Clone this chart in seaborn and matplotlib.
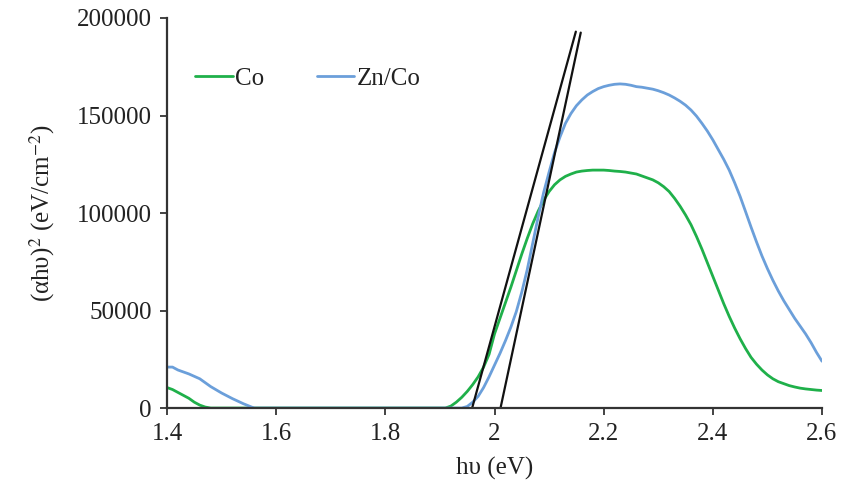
import matplotlib
matplotlib.use("Agg")
import matplotlib.pyplot as plt
import seaborn as sns
import pandas as pd

co_x = [1.40, 1.41, 1.42, 1.43, 1.44, 1.45, 1.46, 1.47, 1.48, 1.91, 1.92, 1.93, 1.94, 1.95,
        1.96, 1.97, 1.98, 1.99, 2.00, 2.01, 2.02, 2.03, 2.04, 2.05, 2.06, 2.07, 2.08, 2.09,
        2.10, 2.11, 2.12, 2.13, 2.14, 2.15, 2.16, 2.17, 2.18, 2.19, 2.20, 2.21, 2.22, 2.23,
        2.24, 2.25, 2.26, 2.27, 2.28, 2.29, 2.30, 2.31, 2.32, 2.33, 2.34, 2.35, 2.36, 2.37,
        2.38, 2.39, 2.40, 2.41, 2.42, 2.43, 2.44, 2.45, 2.46, 2.47, 2.48, 2.49, 2.50, 2.51,
        2.52, 2.53, 2.54, 2.55, 2.56, 2.57, 2.58, 2.59, 2.60]
co_y = [10500, 9500, 8000, 6500, 5000, 3000, 1500, 500, 0, 0, 1000, 3000, 5500, 8500,
        12000, 16000, 21000, 27500, 38000, 46000, 54000, 62000, 70500, 79000, 87000, 94500, 101000, 106500,
        111000, 114500, 117000, 118800, 120000, 121000, 121500, 121800, 122000, 122000, 122000, 121800, 121500, 121300,
        121000, 120500, 120000, 119000, 118000, 117000, 115500, 113500, 111000, 107500, 103500, 99000, 94000, 88000,
        81500, 74500, 67500, 60500, 53500, 47000, 41000, 35500, 30500, 26000, 22500, 19500, 17000, 15000,
        13500, 12500, 11500, 10800, 10200, 9800, 9500, 9200, 9000]

zn_x = [1.40, 1.41, 1.42, 1.44, 1.46, 1.47, 1.48, 1.50, 1.52, 1.54, 1.555, 1.56, 1.94, 1.95,
        1.96, 1.97, 1.98, 1.99, 2.00, 2.01, 2.02, 2.03, 2.04, 2.05, 2.06, 2.07, 2.08, 2.09,
        2.10, 2.11, 2.12, 2.13, 2.14, 2.15, 2.16, 2.17, 2.18, 2.19, 2.20, 2.21, 2.22, 2.23,
        2.24, 2.25, 2.26, 2.27, 2.28, 2.29, 2.30, 2.31, 2.32, 2.33, 2.34, 2.35, 2.36, 2.37,
        2.38, 2.39, 2.40, 2.41, 2.42, 2.43, 2.44, 2.45, 2.46, 2.47, 2.48, 2.49, 2.50, 2.51,
        2.52, 2.53, 2.54, 2.55, 2.56, 2.57, 2.58, 2.59, 2.60]
zn_y = [21000, 21000, 19500, 17500, 15000, 13000, 11000, 7700, 4800, 2200, 500, 0, 0, 800,
        3000, 6000, 10500, 16000, 22000, 28000, 34500, 41500, 49500, 59500, 71000, 84500, 98000, 110500,
        121000, 131000, 139000, 146000, 151000, 155000, 158000, 160500, 162300, 163800, 164800, 165500, 166000, 166200,
        166000, 165500, 164800, 164500, 164000, 163500, 162700, 161700, 160500, 159000, 157300, 155300, 152800, 149700,
        146000, 142000, 137500, 132500, 127500, 122000, 115500, 108500, 100700, 92800, 85200, 78000, 71500, 65500,
        60000, 55000, 50500, 46000, 42000, 38000, 33500, 28500, 24000]

tan1_x = [1.959, 2.149]
tan1_y = [0, 193000]
tan2_x = [2.011, 2.158]
tan2_y = [0, 192500]

series_names = ["Co", "Zn/Co"]
x_ticks = [1.4, 1.6, 1.8, 2.0, 2.2, 2.4, 2.6]
x_tick_labels = ["1.4", "1.6", "1.8", "2", "2.2", "2.4", "2.6"]
y_ticks = [0, 50000, 100000, 150000, 200000]

sns.set_theme(style="white")
plt.rcParams["font.family"] = ["Liberation Serif", "DejaVu Serif"]
plt.rcParams["mathtext.fontset"] = "stix"

df = pd.concat([
    pd.DataFrame({"x": co_x, "y": co_y, "s": series_names[0]}),
    pd.DataFrame({"x": zn_x, "y": zn_y, "s": series_names[1]}),
])

fig = plt.figure(figsize=(8.41, 4.97), dpi=100)
ax = fig.add_axes([0.1986, 0.179, 0.7788, 0.7848])

sns.lineplot(data=df, x="x", y="y", hue="s", sort=False, estimator=None,
             palette={"Co": "#1fb04a", "Zn/Co": "#6b9fda"}, linewidth=2.0, ax=ax)
sns.lineplot(x=tan1_x, y=tan1_y, color="#111111", linewidth=1.6, ax=ax, legend=False)
sns.lineplot(x=tan2_x, y=tan2_y, color="#111111", linewidth=1.6, ax=ax, legend=False)

ax.set_xlim(1.4, 2.6)
ax.set_ylim(0, 200000)
ax.set_xticks(x_ticks)
ax.set_xticklabels(x_tick_labels)
ax.set_yticks(y_ticks)
ax.set_yticklabels([str(v) for v in y_ticks])
ax.tick_params(axis="both", labelsize=18, colors="#222222", length=5, width=1.2,
               direction="out", bottom=True, left=True, pad=6)
ax.tick_params(axis="both", labelcolor="#222222")

for side in ["top", "right"]:
    ax.spines[side].set_visible(False)
for side in ["left", "bottom"]:
    ax.spines[side].set_color("#333333")
    ax.spines[side].set_linewidth(1.6)
    ax.spines[side].set_zorder(3)

ax.set_xlabel("hυ (eV)", fontsize=18, color="#222222", labelpad=8)
ax.set_ylabel(r"(αhυ)$^2$ (eV/cm$^{-2}$)", fontsize=18, color="#222222", labelpad=14)

leg = ax.legend(loc="center left", bbox_to_anchor=(0.043, 0.845), ncol=2, frameon=False,
                fontsize=18, handlelength=1.5, handletextpad=0.1, columnspacing=2.1,
                borderaxespad=0, borderpad=0)
for t in leg.get_texts():
    t.set_color("#222222")

fig.savefig("out.png", dpi=100)
